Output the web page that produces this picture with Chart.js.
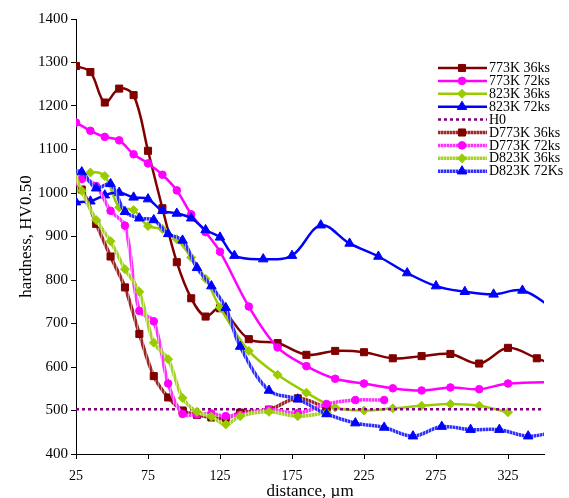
<!DOCTYPE html>
<html>
<head>
<meta charset="utf-8">
<script src="https://cdn.jsdelivr.net/npm/chart.js@4.4.1/dist/chart.umd.min.js"></script>
<style>
  html, body { margin: 0; padding: 0; background: #fff; }
  #wrap { width: 569px; height: 498px; position: relative; }
</style>
</head>
<body>
<div id="wrap"><canvas id="hardnessChart"></canvas></div>
<script>
// x positions (µm); the last values lie past the axis end and are clipped
const xTicks = [25, 75, 125, 175, 225, 275, 325];
const xA = [25, 35, 45, 55, 65, 75, 85, 95, 105, 115, 125, 145, 165, 185, 205, 225, 245, 265, 285, 305, 325, 345, 365];
const xB = [25, 35, 45, 55, 65, 75, 85, 95, 105, 115, 125, 145, 165, 185, 205, 225, 245, 265, 285, 305, 325, 365];
const xC = [25, 35, 45, 55, 65, 75, 85, 95, 105, 115, 125, 145, 165, 185, 205, 225, 245, 265, 285, 305, 325];
const xD = [25, 35, 45, 55, 65, 75, 85, 95, 105, 115, 125, 135, 155, 175, 195, 215, 235, 255, 275, 295, 315, 335, 355];
const xE = [19, 29, 39, 49, 59, 69, 79, 89, 99, 109, 119, 129, 139, 159, 179, 199];
const xF = [19, 29, 39, 49, 59, 69, 79, 89, 99, 109, 119, 129, 139, 159, 179, 199, 219, 239];
const xG = [19, 29, 39, 49, 59, 69, 79, 89, 99, 109, 119, 129, 139, 159, 179, 199, 219, 239, 259, 279, 299, 319, 339, 359];

// hardness HV0.50
const hv773_36 = [1292, 1278, 1208, 1240, 1225, 1097, 965, 841, 758, 716, 735, 664, 655, 628, 637, 634, 620, 625, 630, 608, 644, 620, 595];
const hv773_72 = [1162, 1143, 1129, 1121, 1089, 1068, 1042, 1006, 951, 910, 865, 739, 645, 602, 573, 562, 551, 546, 553, 549, 562, 566];
const hv823_36 = [1026, 1047, 1039, 967, 961, 924, 917, 894, 852, 803, 737, 637, 582, 541, 507, 500, 505, 511, 515, 511, 496];
const hv823_72 = [979, 981, 995, 1001, 990, 986, 959, 953, 942, 915, 898, 856, 848, 856, 926, 884, 854, 816, 786, 773, 767, 776, 738];
const h0 = 503;
const hvD773_36 = [1035, 1008, 929, 854, 783, 676, 579, 530, 500, 490, 484, 482, 495, 502, 528, 506];
const hvD773_72 = [1000, 1032, 1016, 959, 925, 729, 705, 562, 492, 491, 493, 487, 490, 502, 494, 515, 524, 524];
const hvD823_36 = [1090, 1005, 938, 889, 825, 773, 656, 618, 529, 497, 486, 468, 487, 497, 487, 495];
const hvD823_72 = [1052, 1048, 1011, 1021, 957, 942, 938, 906, 891, 828, 786, 736, 647, 546, 526, 492, 471, 461, 441, 463, 456, 456, 441, 452];

const pts = (xs, ys) => xs.map((x, i) => ({ x, y: ys[i] }));

function stripes(dark, light) {
    const cv = document.createElement('canvas');
    cv.width = 3; cv.height = 3;
    const g = cv.getContext('2d');
    g.fillStyle = light; g.fillRect(0, 0, 3, 3);
    g.fillStyle = dark; g.fillRect(0, 0, 2, 3);
    return g.createPattern(cv, 'repeat');
}

function series(label, xs, ys, color, lineColor, style, radius, width) {
    return {
        label,
        data: pts(xs, ys),
        borderColor: lineColor,
        borderWidth: width,
        pointStyle: style,
        pointRadius: radius,
        pointBackgroundColor: color,
        pointBorderColor: color,
        pointBorderWidth: 1,
        markColor: color,
        tension: 0.35
    };
}

const datasets = [
    series('773K 36ks', xA, hv773_36, '#800000', '#800000', 'rect', 5, 2.5),
    series('773K 72ks', xB, hv773_72, '#FF00FF', '#FF00FF', 'circle', 3.8, 2.5),
    series('823K 36ks', xC, hv823_36, '#99CC00', '#99CC00', 'rectRot', 4.5, 2.5),
    series('823K 72ks', xD, hv823_72, '#0000FF', '#0000FF', 'triangle', 5.5, 2.5),
    {
        label: 'H0',
        data: pts([25, 350], [h0, h0]),
        borderColor: '#800080',
        borderWidth: 2.5,
        borderDash: [3, 3],
        pointRadius: 0
    },
    series('D773K 36ks', xE, hvD773_36, '#800000', stripes('#9A2A2A', '#CC8888'), 'rect', 5, 3.5),
    series('D773K 72ks', xF, hvD773_72, '#FF00FF', stripes('#FF33FF', '#FFA0FF'), 'circle', 3.8, 3.5),
    series('D823K 36ks', xE, hvD823_36, '#99CC00', stripes('#A6D12E', '#D2E98A'), 'rectRot', 4.5, 3.5),
    series('D823K 72Ks', xG, hvD823_72, '#0000FF', stripes('#2F2FFF', '#9C9CFF'), 'triangle', 5.5, 3.5)
];
datasets.forEach((ds, i) => { ds.order = datasets.length - i; });

const sideLegend = {
    id: 'sideLegend',
    afterDraw(chart) {
        const ctx = chart.ctx;
        chart.data.datasets.forEach((ds, i) => {
            const y = 68 + i * 12.9;
            ctx.save();
            ctx.strokeStyle = ds.borderColor;
            ctx.lineWidth = ds.borderWidth;
            ctx.setLineDash(ds.borderDash || []);
            ctx.beginPath();
            ctx.moveTo(438, y);
            ctx.lineTo(487, y);
            ctx.stroke();
            ctx.setLineDash([]);
            if (ds.pointRadius) {
                ctx.fillStyle = ds.markColor;
                ctx.strokeStyle = ds.markColor;
                ctx.lineWidth = 1;
                Chart.helpers.drawPoint(ctx, { pointStyle: ds.pointStyle, radius: ds.pointRadius, borderWidth: 1, rotation: 0 }, 462, y);
            }
            ctx.fillStyle = '#000';
            ctx.font = '14px "Liberation Serif"';
            ctx.textBaseline = 'middle';
            ctx.fillText(ds.label, 489, y + 0.5);
            ctx.restore();
        });
    }
};

Chart.defaults.color = '#000';
Chart.defaults.font.family = '"Liberation Serif", "Times New Roman", serif';

new Chart(document.getElementById('hardnessChart'), {
    type: 'line',
    data: { datasets },
    options: {
        responsive: true,
        maintainAspectRatio: false,
        animation: false,
        layout: { padding: { top: 19, right: 25, bottom: 0, left: 0 } },
        plugins: { legend: { display: false }, tooltip: { enabled: false } },
        scales: {
            x: {
                type: 'linear',
                min: 25,
                max: 350,
                afterFit: s => { s.height = 44; },
                afterBuildTicks: s => { s.ticks = xTicks.map(v => ({ value: v })); },
                grid: { drawOnChartArea: false, drawTicks: true, tickLength: 5, color: '#000' },
                border: { color: '#000', width: 1 },
                ticks: { padding: 9, font: { size: 14 }, maxRotation: 0, callback: v => String(v) },
                title: {
                    display: true,
                    text: 'distance, µm',
                    font: { size: 17, lineHeight: 0.8 },
                    padding: 0
                }
            },
            y: {
                min: 400,
                max: 1400,
                afterFit: s => { s.width = 76; },
                grid: { drawOnChartArea: false, drawTicks: true, tickLength: 5, color: '#000' },
                border: { color: '#000', width: 1 },
                ticks: { stepSize: 100, padding: 3, font: { size: 15 }, callback: v => String(v) },
                title: {
                    display: true,
                    text: 'hardness, HV0.50',
                    font: { size: 17 },
                    padding: { top: 16, bottom: 0 }
                }
            }
        }
    },
    plugins: [sideLegend]
});
</script>
</body>
</html>
